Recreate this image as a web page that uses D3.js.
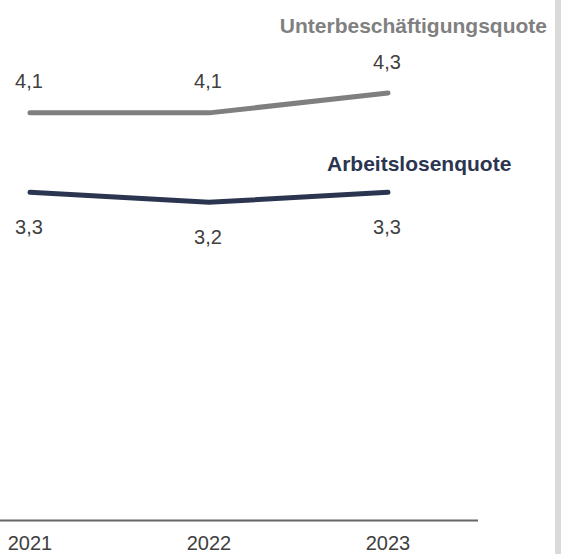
<!DOCTYPE html>
<html>
<head>
<meta charset="utf-8">
<script src="https://cdn.jsdelivr.net/npm/d3@7"></script>
<style>
  html, body { margin: 0; padding: 0; background: #ffffff; }
  svg { display: block; font-family: "Liberation Sans", Arial, sans-serif; }
</style>
</head>
<body>
<svg id="chart" width="561" height="554"></svg>
<script>
const years = ["2021", "2022", "2023"];
const unterbeschaeftigung = [4.1, 4.1, 4.3];
const arbeitslosen = [3.3, 3.2, 3.3];
const seriesNames = ["Unterbeschäftigungsquote", "Arbeitslosenquote"];

const svg = d3.select("#chart");
const W = 561, H = 554;

const x = d3.scaleBand().domain(years).range([-59.5, 477.5]);
const y = d3.scaleLinear().domain([0, 5]).range([520, 23.5]);
const cx = d => x(d) + x.bandwidth() / 2;

// right border strip
svg.append("rect").attr("x", 555).attr("y", 0).attr("width", 6).attr("height", H).attr("fill", "#dadada");

// x axis
const axis = svg.append("g").attr("transform", "translate(0,520)")
  .call(d3.axisBottom(x).tickSize(0));
axis.select(".domain").attr("stroke", "#666666").attr("stroke-width", 2);
axis.selectAll("text")
  .attr("y", 30).attr("dy", 0)
  .attr("font-size", 20)
  .attr("font-family", "Liberation Sans, Arial, sans-serif")
  .attr("fill", "#404040");

const line = d3.line().x((d, i) => cx(years[i])).y(d => y(d));

const series = [
  { name: seriesNames[0], values: unterbeschaeftigung, color: "#7f7f7f", labelOffset: -24.5 },
  { name: seriesNames[1], values: arbeitslosen, color: "#2c3550", labelOffset: 42 }
];

series.forEach(s => {
  svg.append("path").datum(s.values)
    .attr("d", line)
    .attr("fill", "none")
    .attr("stroke", s.color)
    .attr("stroke-width", 5)
    .attr("stroke-linecap", "round")
    .attr("stroke-linejoin", "round");
  svg.selectAll(null).data(s.values).enter().append("text")
    .attr("x", (d, i) => cx(years[i]) - 1)
    .attr("y", d => y(d) + s.labelOffset)
    .attr("text-anchor", "middle")
    .attr("font-size", 20)
    .attr("fill", "#404040")
    .text(d => d3.format(".1f")(d).replace(".", ","));
});

// series labels
svg.append("text").attr("x", 547).attr("y", 33).attr("text-anchor", "end")
  .attr("font-size", 21).attr("font-weight", "bold").attr("fill", "#808080")
  .text(seriesNames[0]);
svg.append("text").attr("x", 327).attr("y", 171).attr("text-anchor", "start")
  .attr("font-size", 21).attr("font-weight", "bold").attr("fill", "#2c3550")
  .text(seriesNames[1]);
</script>
</body>
</html>
